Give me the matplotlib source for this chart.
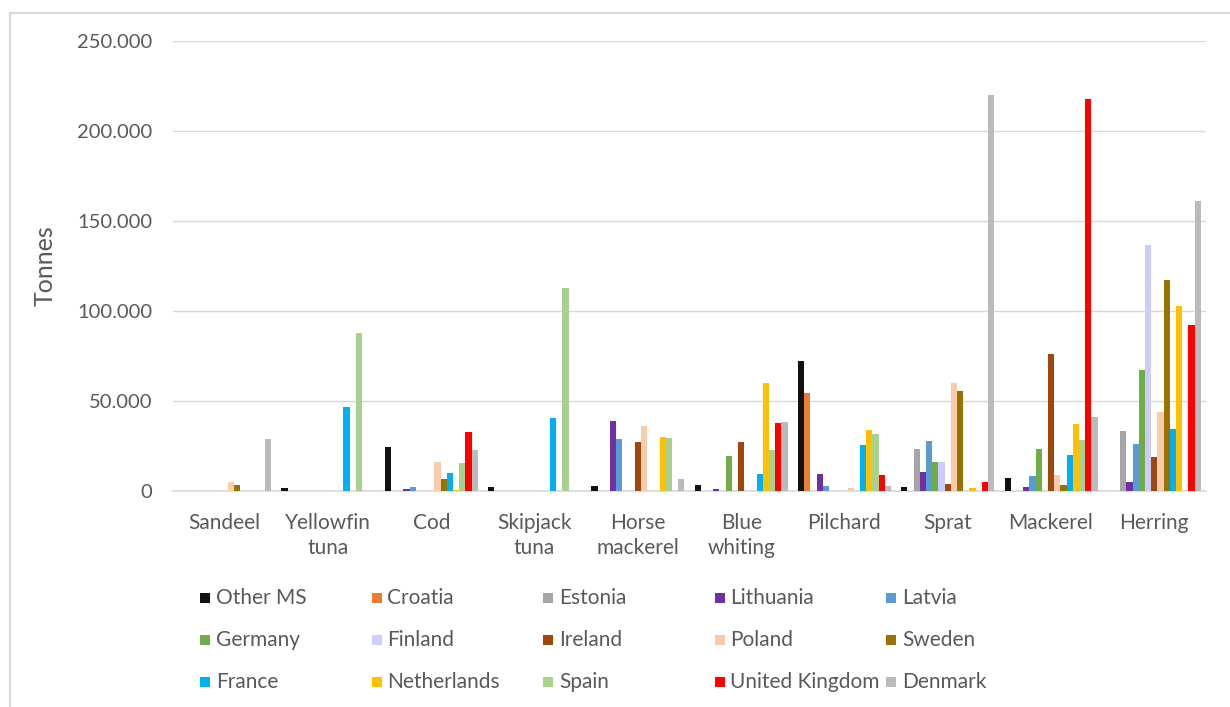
import matplotlib
matplotlib.use("Agg")
import matplotlib.pyplot as plt
import numpy as np
from matplotlib.patches import Rectangle
from matplotlib.lines import Line2D
from matplotlib.ticker import FuncFormatter

plt.rcParams['font.family'] = ['Lato', 'DejaVu Sans']

categories = ["Sandeel", "Yellowfin\ntuna", "Cod", "Skipjack\ntuna", "Horse\nmackerel",
              "Blue\nwhiting", "Pilchard", "Sprat", "Mackerel", "Herring"]

series_names = ["Other MS", "Croatia", "Estonia", "Lithuania", "Latvia",
                "Germany", "Finland", "Ireland", "Poland", "Sweden",
                "France", "Netherlands", "Spain", "United Kingdom", "Denmark"]

other_ms    = [0, 1500, 24600, 2000, 2800, 3300, 72200, 2200, 7400, 0]
croatia     = [0, 0, 0, 0, 0, 0, 54400, 0, 0, 0]
estonia     = [0, 0, 0, 0, 0, 0, 0, 23300, 0, 33300]
lithuania   = [0, 0, 1000, 0, 38700, 900, 9300, 10700, 2200, 4800]
latvia      = [0, 0, 2200, 0, 28700, 0, 2800, 28000, 8100, 26100]
germany     = [0, 0, 0, 0, 0, 19300, 0, 15900, 23300, 67000]
finland     = [0, 0, 0, 0, 0, 0, 0, 15900, 0, 136700]
ireland     = [0, 0, 0, 0, 27200, 27200, 0, 4100, 76300, 18700]
poland      = [4800, 0, 16100, 0, 35900, 0, 1700, 59800, 8700, 43900]
sweden      = [3300, 0, 6700, 0, 0, 0, 0, 55700, 3300, 117200]
france      = [0, 46500, 10000, 40500, 0, 9300, 25400, 0, 20000, 34600]
netherlands = [0, 0, 700, 0, 30000, 59800, 33900, 1500, 37400, 102800]
spain       = [0, 87600, 15400, 112600, 29400, 22600, 31900, 0, 28500, 0]
uk          = [0, 0, 32600, 0, 0, 37800, 8900, 4800, 218000, 92200]
denmark     = [28700, 0, 22600, 0, 6700, 38500, 2800, 219800, 41100, 160900]

series_values = [other_ms, croatia, estonia, lithuania, latvia, germany, finland,
                 ireland, poland, sweden, france, netherlands, spain, uk, denmark]

colors = ["#111111", "#ED7D31", "#A5A5A5", "#7030A0", "#5B9BD5",
          "#70AD47", "#CCCCFF", "#9E480E", "#F8CBAD", "#997300",
          "#00B0F0", "#FFC000", "#A9D18E", "#FF0000", "#BBBBBB"]

W, H = 1230, 707
fig = plt.figure(figsize=(W / 100, H / 100), dpi=100)
ax = fig.add_axes([173 / W, 1 - 491 / H, 1033 / W, 450 / H])

x = np.arange(len(categories))
bw = 0.06
n = len(series_names)
for i, (name, vals, c) in enumerate(zip(series_names, series_values, colors)):
    ax.bar(x + (i - (n - 1) / 2) * bw, vals, width=bw, color=c, label=name, zorder=3)

ax.set_xlim(-0.5, len(categories) - 0.5)
ax.set_ylim(0, 250000)
ax.set_yticks(np.arange(0, 250001, 50000))
ax.yaxis.set_major_formatter(FuncFormatter(lambda v, p: "0" if v == 0 else f"{int(v):,}".replace(",", ".")))
ax.set_xticks(x)
ax.set_xticklabels(categories)

txt_color = "#595959"
ax.tick_params(axis='y', length=0, labelsize=14.5, colors=txt_color, pad=15)
ax.tick_params(axis='x', length=0, labelsize=15, colors=txt_color, pad=15.5)
for t in ax.get_xticklabels():
    t.set_linespacing(1.35)
ax.grid(axis='y', color="#D9D9D9", linewidth=1.0, zorder=0)
for s in ["top", "right", "left"]:
    ax.spines[s].set_visible(False)
ax.spines["bottom"].set_color("#D9D9D9")
ax.spines["bottom"].set_linewidth(1.2)

ax.set_ylabel("Tonnes", fontsize=18, color=txt_color)
ax.yaxis.set_label_coords((57 - 173) / 1033, 0.5)

# legend (row-major, 5 columns)
for i, (name, c) in enumerate(zip(series_names, colors)):
    r, col = divmod(i, 5)
    left = 200 + col * 171.5
    yc = 598 + r * 42
    fig.patches.append(Rectangle((left / W, 1 - (yc + 5) / H), 10 / W, 10 / H,
                                 transform=fig.transFigure, facecolor=c, edgecolor='none'))
    fig.text((left + 16) / W, 1 - yc / H, name, fontsize=15, color=txt_color,
             va='center', ha='left')

# chart border
fig.add_artist(Line2D([10 / W, 10 / W], [0, 1 - 13 / H], transform=fig.transFigure,
                      color="#D9D9D9", linewidth=1.5))
fig.add_artist(Line2D([10 / W, 1], [1 - 13 / H, 1 - 13 / H], transform=fig.transFigure,
                      color="#D9D9D9", linewidth=1.5))

fig.savefig("out.png", dpi=100)
